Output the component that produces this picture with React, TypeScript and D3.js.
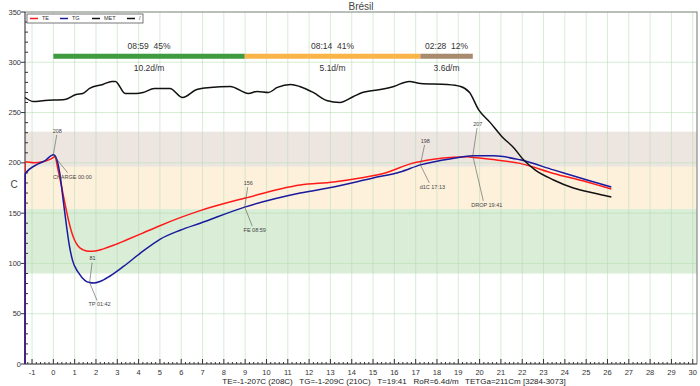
import React, { useEffect, useRef } from "react";
import * as d3 from "d3";

// roast curves, time in minutes
const metTime = [-1.33, -0.93, -0.4, 0.54, 1.07, 1.38, 1.7, 2.32, 2.75, 2.91, 3.37, 3.9, 4.21, 4.74, 5.47, 6.06, 6.73, 7.36, 8.3, 9.15, 9.56, 10.09, 10.51, 11.14, 11.56, 12.19, 12.82, 13.45, 14.08, 14.5, 15.34, 15.97, 16.7, 17.23, 18.48, 19.11, 19.53, 19.95, 20.5, 21.05, 21.6, 22.06, 22.6, 23.47, 24.4, 25.35, 26.18];
const metValues = [265, 261, 262, 263, 268, 269, 274, 278, 281, 281, 269, 269, 270, 274, 274, 265, 273, 275, 276, 269, 271, 270, 275, 278, 276, 270, 262, 260, 266, 270, 273, 276, 281, 279, 278, 276, 270, 253, 240, 226, 215, 203, 193, 183, 175, 170, 166];

const teTime = [-1.33, -1.32, -0.9, -0.5, -0.1, 0.08, 0.2, 0.4, 0.55, 0.7, 0.86, 1.0, 1.17, 1.4, 1.7, 1.96, 2.35, 2.82, 3.45, 4.23, 5.0, 5.95, 6.89, 9.0, 11.58, 13.15, 14.4, 15.57, 16.75, 17.84, 18.78, 19.4, 19.88, 20.5, 21.9, 23.47, 25.04, 26.18];
const teValues = [0, 201, 200, 201, 204, 206, 195, 175, 159, 144, 131, 123, 117, 113.5, 112, 112.3, 114.5, 118, 123.5, 130.5, 137.5, 145.5, 152.5, 165, 178, 181, 185, 190, 199, 203.5, 205.5, 206, 205, 203.5, 199.5, 189.5, 181, 174];

const tgTime = [-1.33, -1.32, -0.8, -0.4, 0.0, 0.08, 0.3, 0.45, 0.6, 0.75, 0.9, 1.17, 1.49, 1.7, 1.9, 2.19, 2.66, 3.29, 4.07, 5.0, 5.95, 6.89, 8.98, 11.58, 13.15, 15.0, 16.27, 17.22, 18.78, 19.68, 20.66, 21.9, 23.47, 25.04, 26.18];
const tgValues = [0, 189, 198, 202, 208, 207, 190, 165, 140, 118, 103, 91, 83, 81, 80.5, 82, 87.5, 97, 110, 124, 133, 140, 156, 170, 176, 185, 191, 198, 204.5, 207, 207, 203, 193, 183, 176];

// phases
const phaseStart = [0, 8.98, 17.22];
const phaseEnd = [8.98, 17.22, 19.68];
const phaseTop = ["08:59  45%", "08:14  41%", "02:28  12%"];
const phaseBottom = ["10.2d/m", "5.1d/m", "3.6d/m"];
const phaseColors = ["#3f9b3f", "#fbb447", "#a88a6d"];

// background bands
const bandLow = [196, 154, 90];
const bandHigh = [231, 196, 154];
const bandColors = ["#ede6e0", "#fef1dc", "#d9edd7"];

// events
const eventTime = [0, 1.7, 8.98, 17.22, 19.68];
const eventValue = [208, 81, 156, 198, 207];
const eventName = ["CHARGE 00:00", "TP 01:42", "FE 08:59", "d1C 17:13", "DROP 19:41"];

const legendNames = ["TE", "TG", "MET", "/"];
const legendColors = ["#ff1a1a", "#1a1a9e", "#111", "#111"];

const footer = "TE=-1-207C (208C)   TG=-1-209C (210C)   T=19:41   RoR=6.4d/m   TETGa=211Cm [3284-3073]";

const W = 700;
const H = 386;
const FONT = "'Liberation Sans', Arial, sans-serif";

export default function App() {
  const ref = useRef<SVGSVGElement | null>(null);

  useEffect(() => {
    const root = d3.select(ref.current);
    root.selectAll("*").remove();
    const svg = root.attr("width", W).attr("height", H);

    const x = d3.scaleLinear().domain([-1.33, 30.2]).range([25, 697]);
    const y = d3.scaleLinear().domain([0, 350]).range([364, 12]);
    const [x0, x1] = x.range();
    const [yb, yt] = y.range();

    svg.append("rect").attr("width", W).attr("height", H).attr("fill", "#fff");

    // bands
    bandLow.forEach((lo, i) => {
      svg
        .append("rect")
        .attr("x", x0)
        .attr("y", y(bandHigh[i]))
        .attr("width", x1 - x0)
        .attr("height", y(lo) - y(bandHigh[i]))
        .attr("fill", bandColors[i]);
    });

    // grid
    const grid = svg.append("g").attr("stroke", "#b5dcb0").attr("stroke-opacity", 0.55).attr("stroke-width", 1);
    d3.range(-1, 31).forEach((t) => {
      grid.append("line").attr("x1", x(t)).attr("x2", x(t)).attr("y1", yt).attr("y2", yb);
    });
    d3.range(50, 351, 50).forEach((v) => {
      grid.append("line").attr("x1", x0).attr("x2", x1).attr("y1", y(v)).attr("y2", y(v));
    });

    // frame top/right
    svg
      .append("path")
      .attr("d", `M${x0},${yt}H${x1}V${yb}`)
      .attr("fill", "none")
      .attr("stroke", "#8a8a8a")
      .attr("stroke-width", 1.2);

    // y axis
    const yAxis = svg.append("g");
    yAxis.append("line").attr("x1", x0).attr("x2", x0).attr("y1", yt).attr("y2", yb).attr("stroke", "#222");
    d3.range(0, 351, 10).forEach((v) => {
      const major = v % 50 === 0;
      yAxis
        .append("line")
        .attr("x1", major ? x0 - 4 : x0)
        .attr("x2", major ? x0 : x0 + 3)
        .attr("y1", y(v))
        .attr("y2", y(v))
        .attr("stroke", "#333");
      if (major) {
        yAxis
          .append("text")
          .attr("x", x0 - 4)
          .attr("y", y(v))
          .attr("dy", "0.35em")
          .attr("text-anchor", "end")
          .style("font-family", FONT)
          .style("font-size", "7.5px")
          .attr("fill", "#333")
          .text(v);
      }
    });
    svg
      .append("text")
      .attr("x", 14)
      .attr("y", 184)
      .attr("dy", "0.35em")
      .attr("text-anchor", "middle")
      .style("font-family", FONT)
      .style("font-size", "10px")
      .attr("fill", "#444")
      .text("C");

    // x axis
    const xAxis = svg.append("g");
    xAxis.append("line").attr("x1", x0).attr("x2", x1).attr("y1", yb).attr("y2", yb).attr("stroke", "#222");
    d3.range(-6, 151).forEach((k) => {
      const t = k / 5;
      if (x(t) < x0 || x(t) > x1) return;
      const major = k % 5 === 0;
      xAxis
        .append("line")
        .attr("x1", x(t))
        .attr("x2", x(t))
        .attr("y1", yb)
        .attr("y2", yb - (major ? 5 : 2))
        .attr("stroke", "#333");
      if (major) {
        xAxis
          .append("text")
          .attr("x", x(t))
          .attr("y", 372)
          .attr("dy", "0.35em")
          .attr("text-anchor", "middle")
          .style("font-family", FONT)
          .style("font-size", "7.5px")
          .attr("fill", "#333")
          .text(t);
      }
    });

    // title
    svg
      .append("text")
      .attr("x", (x0 + x1) / 2)
      .attr("y", 6)
      .attr("dy", "0.35em")
      .attr("text-anchor", "middle")
      .style("font-family", FONT)
      .style("font-size", "10px")
      .attr("fill", "#444")
      .text("Brésil");

    // phases
    phaseStart.forEach((s, i) => {
      const e = phaseEnd[i];
      svg
        .append("rect")
        .attr("x", x(s))
        .attr("y", y(308.5))
        .attr("width", x(e) - x(s))
        .attr("height", y(303.5) - y(308.5))
        .attr("fill", phaseColors[i]);
      const cx = x((s + e) / 2);
      svg
        .append("text")
        .attr("x", cx)
        .attr("y", 46)
        .attr("dy", "0.35em")
        .attr("text-anchor", "middle")
        .style("font-family", FONT)
        .style("font-size", "8.5px")
        .attr("fill", "#333")
        .style("white-space", "pre")
        .text(phaseTop[i]);
      svg
        .append("text")
        .attr("x", cx)
        .attr("y", 68)
        .attr("dy", "0.35em")
        .attr("text-anchor", "middle")
        .style("font-family", FONT)
        .style("font-size", "8.5px")
        .attr("fill", "#333")
        .text(phaseBottom[i]);
    });

    // curves
    const line = d3
      .line<[number, number]>()
      .x((d) => x(d[0]))
      .y((d) => y(d[1]))
      .curve(d3.curveMonotoneX);
    const series: [number[], number[], string][] = [
      [teTime, teValues, legendColors[0]],
      [tgTime, tgValues, legendColors[1]],
      [metTime, metValues, legendColors[2]],
    ];
    series.forEach(([ts, vs, c]) => {
      svg
        .append("path")
        .attr("d", line(ts.map((t, i) => [t, vs[i]] as [number, number])))
        .attr("fill", "none")
        .attr("stroke", c)
        .attr("stroke-width", 1.5);
    });

    // events
    const topOff = [[4, -24], [3, -24], [3.5, -24], [5, -24], [5, -32]];
    const botOff = [[19, 22], [10, 22], [10, 23], [12, 22], [14, 49]];
    eventTime.forEach((t, i) => {
      const px = x(t);
      const py = y(eventValue[i]);
      const [tx, ty] = topOff[i];
      const [bx, by] = botOff[i];
      svg
        .append("line")
        .attr("x1", px + tx * 0.85)
        .attr("y1", py + ty + 4)
        .attr("x2", px)
        .attr("y2", py)
        .attr("stroke", "#555")
        .attr("stroke-width", 0.6);
      svg
        .append("line")
        .attr("x1", px)
        .attr("y1", py)
        .attr("x2", px + bx * 0.75)
        .attr("y2", py + by - 4)
        .attr("stroke", "#555")
        .attr("stroke-width", 0.6);
      svg
        .append("text")
        .attr("x", px + tx)
        .attr("y", py + ty)
        .attr("dy", "0.35em")
        .attr("text-anchor", "middle")
        .style("font-family", FONT)
        .style("font-size", "5.5px")
        .attr("fill", "#444")
        .text(eventValue[i]);
      svg
        .append("text")
        .attr("x", px + bx)
        .attr("y", py + by)
        .attr("dy", "0.35em")
        .attr("text-anchor", "middle")
        .style("font-family", FONT)
        .style("font-size", "5.5px")
        .attr("fill", "#444")
        .text(eventName[i]);
    });

    // legend
    const lg = svg.append("g");
    lg.append("rect")
      .attr("x", 27)
      .attr("y", 14)
      .attr("width", 116)
      .attr("height", 9)
      .attr("fill", "#fff")
      .attr("stroke", "#555")
      .attr("stroke-width", 0.8);
    const lx = [30, 60, 92, 127];
    legendNames.forEach((n, i) => {
      lg.append("line")
        .attr("x1", lx[i])
        .attr("x2", lx[i] + 8)
        .attr("y1", 18.5)
        .attr("y2", 18.5)
        .attr("stroke", legendColors[i])
        .attr("stroke-width", 1.5);
      lg.append("text")
        .attr("x", lx[i] + 12)
        .attr("y", 18.5)
        .attr("dy", "0.35em")
        .style("font-family", FONT)
        .style("font-size", "5.5px")
        .attr("fill", "#333")
        .text(n);
    });

    // footer
    svg
      .append("text")
      .attr("x", 394)
      .attr("y", 381.5)
      .attr("dy", "0.35em")
      .attr("text-anchor", "middle")
      .style("font-family", FONT)
      .style("font-size", "8px")
      .style("white-space", "pre")
      .attr("fill", "#222")
      .text(footer);
  }, []);

  return (
    <div style={{ position: "fixed", left: 0, top: 0 }}>
      <svg ref={ref} style={{ display: "block" }}></svg>
    </div>
  );
}
